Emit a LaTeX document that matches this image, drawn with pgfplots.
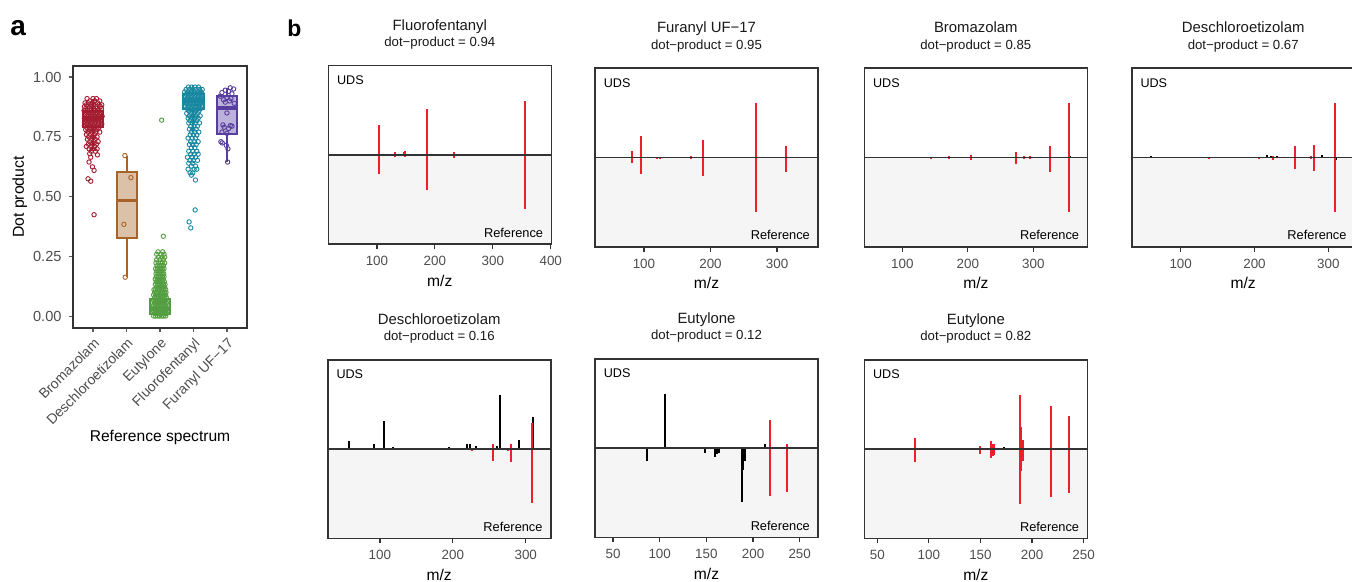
\documentclass[border=0pt]{standalone}
\usepackage{fontspec}
\setmainfont{Liberation Sans}
\usepackage{pgfplots}
\pgfplotsset{compat=1.18}
\usepgfplotslibrary{statistics}

\newcommand\fs[1]{\fontsize{#1}{#1}\selectfont}

\definecolor{cBro}{RGB}{163,28,48}
\definecolor{cDes}{RGB}{168,100,40}
\definecolor{cEut}{RGB}{84,158,66}
\definecolor{cFlu}{RGB}{24,136,160}
\definecolor{cFur}{RGB}{88,60,158}
\definecolor{specred}{RGB}{236,32,40}
\definecolor{frame}{RGB}{51,51,51}
\definecolor{tickgray}{RGB}{77,77,77}
\definecolor{refbg}{RGB}{245,245,245}

\pgfplotsset{
  spec/.style={
    anchor=north west, scale only axis, width=111.5pt, height=89.2pt,
    ymin=-1.65, ymax=1.65, ytick=\empty,
    xtick pos=bottom, tick align=outside, major tick length=2.5pt,
    axis line style={draw=frame, line width=0.8pt},
    every tick/.style={draw=frame, line width=0.6pt},
    xticklabel style={font=\fs{6.7}, text=tickgray, anchor=base, yshift=-8.2pt},
    /pgf/number format/assume math mode=true,
    clip=false, axis on top,
  },
  redpk/.style={ycomb, no markers, draw=specred, line width=1pt},
  blkpk/.style={ycomb, no markers, draw=black, line width=1pt},
  pts/.style={only marks, mark=o, mark size=1.1pt, mark options={line width=0.45pt}},
  bx/.style={boxplot/draw direction=y, boxplot/box extend=0.6, boxplot/whisker extend=0,
    line width=1pt, solid,
    boxplot/every box/.style={line width=1pt},
    boxplot/every whisker/.style={line width=1pt},
    boxplot/every median/.style={line width=1.9pt}},
}

% shaded reference half, drawn first
\newcommand\specbg{\fill[refbg] (rel axis cs:0,0) rectangle (rel axis cs:1,0.5);}
% zero line and labels
\newcommand\specfg[2]{%
  \draw[frame, line width=0.75pt] (rel axis cs:0,0.5) -- (rel axis cs:1,0.5);
  \node[anchor=base west, font=\fs{6.3}, inner sep=0pt, xshift=4.2pt, yshift=-9.4pt] at (rel axis cs:0,1) {UDS};
  \node[anchor=base east, font=\fs{6.4}, inner sep=0pt, xshift=-3.9pt, yshift=3.4pt] at (rel axis cs:1,0) {Reference};
  \node[anchor=base, font=\fs{7.45}, text=black!90, inner sep=0pt, yshift=17.8pt] at (rel axis cs:0.5,1) {#1};
  \node[anchor=base, font=\fs{6.6}, text=black!90, inner sep=0pt, yshift=9.6pt] at (rel axis cs:0.5,1) {dot−product = #2};
  \node[anchor=base, font=\fs{7.8}, inner sep=0pt, yshift=-21pt] at (rel axis cs:0.5,0) {m/z};
}

\begin{document}
\begin{tikzpicture}
\path[use as bounding box] (0,0) rectangle (676pt,-291pt);

\node[anchor=base west, font=\fs{14}\bfseries, inner sep=0pt] at (5pt,-18pt) {a};
\node[anchor=base west, font=\fs{11.5}\bfseries, inner sep=0pt] at (143.5pt,-18.3pt) {b};

% ---------------- panel a ----------------
\begin{axis}[
  at={(36.5pt,-164pt)}, anchor=south west, scale only axis,
  width=87pt, height=131pt,
  xmin=0.4, xmax=5.6, ymin=-0.048, ymax=1.046,
  xtick={1,2,3,4,5},
  xticklabels={Bromazolam,Deschloroetizolam,Eutylone,Fluorofentanyl,Furanyl UF−17},
  ytick={0,0.25,0.5,0.75,1},
  yticklabel style={/pgf/number format/fixed, /pgf/number format/fixed zerofill,
    /pgf/number format/precision=2, font=\fs{7.3}, text=tickgray},
  /pgf/number format/assume math mode=true,
  xtick pos=bottom, ytick pos=left, tick align=outside, major tick length=2.2pt,
  axis line style={draw=frame, line width=0.8pt},
  every tick/.style={draw=frame!80, line width=0.6pt},
  xticklabel style={font=\fs{7}, text=tickgray, rotate=45, anchor=north east, inner sep=1.5pt},
  clip=false,
]
\addplot[bx, draw=cBro, fill=cBro!45, boxplot prepared={draw position=1,
  median=0.83, lower quartile=0.792, upper quartile=0.858, lower whisker=0.70, upper whisker=0.91}]
  coordinates {};
\addplot[bx, draw=cDes, fill=cDes!40, boxplot prepared={draw position=2,
  median=0.484, lower quartile=0.329, upper quartile=0.604, lower whisker=0.164, upper whisker=0.672}]
  coordinates {};
\addplot[bx, draw=cEut, fill=cEut!45, boxplot prepared={draw position=3,
  median=0.03, lower quartile=0.011, upper quartile=0.074, lower whisker=0.0, upper whisker=0.165}]
  coordinates {};
\addplot[bx, draw=cFlu, fill=cFlu!40, boxplot prepared={draw position=4,
  median=0.90, lower quartile=0.866, upper quartile=0.929, lower whisker=0.77, upper whisker=0.965}]
  coordinates {};
\addplot[bx, draw=cFur, fill=cFur!40, boxplot prepared={draw position=5,
  median=0.872, lower quartile=0.762, upper quartile=0.922, lower whisker=0.645, upper whisker=0.955}]
  coordinates {};

% Bromazolam
\addplot[pts, cBro] coordinates {
(0.82,0.91)(1.0,0.91)(1.1,0.91)(0.9,0.9)(1.05,0.9)(1.2,0.9)
(0.76,0.892)(0.86,0.892)(0.98,0.892)(1.14,0.892)
(0.8,0.884)(0.93,0.884)(1.02,0.884)(1.18,0.884)(1.26,0.884)
(0.74,0.876)(0.85,0.876)(0.96,0.876)(1.08,0.876)(1.22,0.876)
(0.78,0.868)(0.9,0.868)(1.01,0.868)(1.12,0.868)(1.25,0.868)
(0.73,0.86)(0.84,0.86)(0.95,0.86)(1.06,0.86)(1.18,0.86)
(0.8,0.852)(0.91,0.852)(1.02,0.852)(1.13,0.852)(1.24,0.852)
(0.75,0.844)(0.86,0.844)(0.97,0.844)(1.08,0.844)(1.2,0.844)
(0.81,0.836)(0.92,0.836)(1.03,0.836)(1.15,0.836)(1.27,0.836)
(0.74,0.828)(0.87,0.828)(0.98,0.828)(1.1,0.828)(1.21,0.828)
(0.79,0.82)(0.9,0.82)(1.01,0.82)(1.13,0.82)(1.24,0.82)
(0.76,0.812)(0.85,0.812)(0.96,0.812)(1.07,0.812)(1.18,0.812)
(0.81,0.804)(0.93,0.804)(1.04,0.804)(1.16,0.804)(1.26,0.804)
(0.74,0.796)(0.87,0.796)(0.99,0.796)(1.11,0.796)(1.22,0.796)
(0.82,0.788)(0.94,0.788)(1.05,0.788)(1.17,0.788)
(0.78,0.78)(0.89,0.78)(1.0,0.78)(1.12,0.78)
(0.84,0.77)(0.96,0.77)(1.08,0.77)(1.2,0.77)
(0.8,0.76)(0.92,0.76)(1.04,0.76)(0.87,0.75)(0.99,0.75)(1.12,0.75)
(0.83,0.74)(0.95,0.74)(1.06,0.74)(0.9,0.73)(1.02,0.73)(1.15,0.73)
(0.86,0.72)(0.98,0.72)(1.1,0.72)(0.8,0.71)(0.93,0.71)(1.05,0.71)
(0.88,0.70)(1.0,0.70)(1.12,0.70)(0.95,0.69)(1.07,0.69)(0.9,0.68)
(1.13,0.675)(0.93,0.665)(0.88,0.645)(0.98,0.625)(1.03,0.61)
(0.85,0.575)(0.93,0.565)(1.03,0.425)
};
% Deschloroetizolam
\addplot[pts, cDes] coordinates {(1.95,0.672)(2.13,0.58)(1.92,0.385)(1.96,0.164)};
% Eutylone
\addplot[pts, cEut] coordinates {
(2.81,0.002)(2.87,0.002)(2.93,0.002)(2.99,0.002)(3.05,0.002)(3.11,0.002)(3.17,0.002)
(2.84,0.013)(2.90,0.013)(2.96,0.013)(3.02,0.013)(3.08,0.013)(3.14,0.013)(3.19,0.013)
(2.81,0.024)(2.87,0.024)(2.93,0.024)(2.99,0.024)(3.05,0.024)(3.11,0.024)(3.17,0.024)
(2.84,0.035)(2.90,0.035)(2.96,0.035)(3.02,0.035)(3.08,0.035)(3.14,0.035)(3.19,0.035)
(2.81,0.046)(2.87,0.046)(2.93,0.046)(2.99,0.046)(3.05,0.046)(3.11,0.046)(3.17,0.046)
(2.84,0.057)(2.90,0.057)(2.96,0.057)(3.02,0.057)(3.08,0.057)(3.14,0.057)(3.19,0.057)
(2.81,0.068)(2.87,0.068)(2.93,0.068)(2.99,0.068)(3.05,0.068)(3.11,0.068)(3.17,0.068)
(2.84,0.079)(2.90,0.079)(2.96,0.079)(3.02,0.079)(3.08,0.079)(3.14,0.079)(3.19,0.079)
(2.81,0.090)(2.87,0.090)(2.93,0.090)(2.99,0.090)(3.05,0.090)(3.11,0.090)(3.17,0.090)
(2.84,0.101)(2.90,0.101)(2.96,0.101)(3.02,0.101)(3.08,0.101)(3.14,0.101)(3.18,0.101)
(2.82,0.112)(2.87,0.112)(2.93,0.112)(2.99,0.112)(3.05,0.112)(3.11,0.112)(3.17,0.112)
(2.90,0.123)(2.96,0.123)(3.02,0.123)(3.08,0.123)(3.14,0.123)
(2.86,0.134)(2.92,0.134)(2.98,0.134)(3.04,0.134)(3.10,0.134)(3.15,0.134)
(2.89,0.145)(2.95,0.145)(3.01,0.145)(3.07,0.145)(3.13,0.145)
(2.86,0.156)(2.92,0.156)(2.98,0.156)(3.04,0.156)(3.10,0.156)
(2.89,0.167)(2.95,0.167)(3.01,0.167)(3.07,0.167)(3.12,0.167)
(2.88,0.178)(2.94,0.178)(3.00,0.178)(3.06,0.178)(3.11,0.178)
(2.90,0.190)(2.97,0.190)(3.03,0.190)(3.09,0.190)
(2.87,0.200)(2.93,0.200)(3.00,0.200)(3.06,0.200)(3.12,0.200)
(2.91,0.212)(2.98,0.212)(3.04,0.212)(3.10,0.212)
(2.88,0.224)(2.95,0.224)(3.02,0.224)(3.08,0.224)(3.14,0.224)
(2.90,0.237)(3.00,0.237)(3.10,0.237)(2.95,0.248)(3.06,0.248)(3.14,0.248)
(2.90,0.26)(3.03,0.26)(3.12,0.26)(3.08,0.27)(2.94,0.27)
(3.10,0.335)(3.05,0.82)
};
% Fluorofentanyl
\addplot[pts, cFlu] coordinates {
(3.85,0.958)(3.95,0.958)(4.05,0.958)(4.15,0.958)
(3.78,0.948)(3.88,0.948)(3.98,0.948)(4.08,0.948)(4.18,0.948)(4.26,0.948)
(3.74,0.938)(3.83,0.938)(3.93,0.938)(4.03,0.938)(4.13,0.938)(4.22,0.938)
(3.79,0.928)(3.88,0.928)(3.98,0.928)(4.08,0.928)(4.18,0.928)(4.27,0.928)
(3.74,0.918)(3.84,0.918)(3.94,0.918)(4.04,0.918)(4.14,0.918)(4.23,0.918)
(3.79,0.908)(3.89,0.908)(3.99,0.908)(4.09,0.908)(4.19,0.908)(4.27,0.908)
(3.75,0.898)(3.85,0.898)(3.95,0.898)(4.05,0.898)(4.15,0.898)(4.24,0.898)
(3.80,0.888)(3.90,0.888)(4.00,0.888)(4.10,0.888)(4.20,0.888)
(3.76,0.878)(3.86,0.878)(3.96,0.878)(4.06,0.878)(4.16,0.878)(4.25,0.878)
(3.82,0.868)(3.92,0.868)(4.02,0.868)(4.12,0.868)(4.21,0.868)
(3.86,0.858)(3.96,0.858)(4.06,0.858)(4.16,0.858)
(3.80,0.848)(3.92,0.848)(4.02,0.848)(4.12,0.848)
(3.88,0.838)(3.98,0.838)(4.08,0.838)(4.20,0.838)
(3.84,0.828)(3.94,0.828)(4.04,0.828)(4.14,0.828)
(3.90,0.818)(4.00,0.818)(4.10,0.818)
(3.86,0.808)(3.96,0.808)(4.06,0.808)(4.18,0.808)
(3.92,0.795)(4.02,0.795)(4.12,0.795)(3.88,0.782)(3.98,0.782)(4.08,0.782)
(3.94,0.770)(4.04,0.770)(4.16,0.770)(3.90,0.758)(4.00,0.758)(4.10,0.758)
(3.84,0.745)(3.96,0.745)(4.06,0.745)(3.92,0.730)(4.02,0.730)(4.14,0.730)
(3.88,0.718)(3.98,0.718)(4.08,0.718)(3.94,0.705)(4.04,0.705)
(3.86,0.690)(3.98,0.690)(4.10,0.690)(3.92,0.678)(4.02,0.678)(4.14,0.678)
(3.82,0.665)(3.96,0.665)(4.06,0.665)(3.90,0.652)(4.00,0.652)(4.12,0.652)
(3.86,0.640)(3.98,0.640)(3.94,0.628)(4.06,0.628)
(3.84,0.615)(4.02,0.615)(4.10,0.615)(3.90,0.600)(3.98,0.600)(3.94,0.590)
(4.06,0.570)(4.05,0.445)(3.87,0.395)(3.92,0.370)
};
% Furanyl UF-17
\addplot[pts, cFur] coordinates {
(5.10,0.955)(5.20,0.950)(4.95,0.945)(5.05,0.940)(4.85,0.935)(5.15,0.930)
(4.80,0.920)(5.00,0.915)(5.12,0.910)(4.90,0.905)(5.08,0.900)(4.95,0.895)
(5.22,0.890)(5.00,0.850)(4.88,0.800)(5.10,0.797)(5.15,0.795)(4.92,0.790)
(5.05,0.785)(4.85,0.770)(5.00,0.765)(4.82,0.730)(4.86,0.725)(4.98,0.715)
(5.03,0.700)(5.02,0.645)
};
\node[rotate=90, anchor=base, font=\fs{7.9}, inner sep=0pt, yshift=24.5pt] at (rel axis cs:0,0.5) {Dot product};
\node[anchor=base, font=\fs{7.8}, inner sep=0pt, yshift=-56.5pt] at (rel axis cs:0.5,0) {Reference spectrum};
\end{axis}

% ---------------- panel b, top row ----------------
\begin{axis}[spec, at={(164.15pt,-32.85pt)}, xmin=16, xmax=401, xtick={100,200,300,400}]
\specbg
\addplot[blkpk] coordinates {(212.7,0.012)(300,0.006)};
\addplot[redpk] coordinates {
(54,0.01)(54,-0.01)(83,0.015)(83,-0.01)(103.5,0.55)(103.5,-0.35)
(132,0.06)(132,-0.04)(146,0.05)(149,0.08)(149,-0.04)
(186.7,0.85)(186.7,-0.64)(232.8,0.06)(232.8,-0.05)(355.3,1.0)(355.3,-1.0)};
\specfg{Fluorofentanyl}{0.94}
\end{axis}

\begin{axis}[spec, at={(297.5pt,-34.15pt)}, xmin=26.5, xmax=361.5, xtick={100,200,300}]
\specbg
\addplot[blkpk] coordinates {(200,0.006)};
\addplot[redpk] coordinates {
(81.5,0.125)(81.5,-0.105)(95.5,0.40)(95.5,-0.30)(119,0.015)(119,-0.01)
(124,0.015)(124,-0.01)(170,0.02)(170,-0.015)(173,0.015)
(188.5,0.32)(188.5,-0.335)(268,1.0)(268,-1.01)(313,0.21)(313,-0.26)};
\specfg{Furanyl UF−17}{0.95}
\end{axis}

\begin{axis}[spec, at={(432.15pt,-34.15pt)}, xmin=42, xmax=382.4, xtick={100,200,300}]
\specbg
\addplot[blkpk] coordinates {(356,0.02)};
\addplot[redpk] coordinates {
(143.4,0.015)(143.4,-0.01)(171,0.03)(171,-0.02)(205,0.04)(205,-0.05)(216,0.01)
(274,0.1)(274,-0.12)(285.3,0.03)(285.3,-0.03)(295,0.02)(295,-0.01)
(325.5,0.22)(325.5,-0.26)(354,1.0)(354,-1.01)};
\specfg{Bromazolam}{0.85}
\end{axis}

\begin{axis}[spec, at={(565.85pt,-34.15pt)}, xmin=33.6, xmax=335.8, xtick={100,200,300}]
\specbg
\addplot[blkpk] coordinates {
(59.3,0.02)(200,0.01)(216.5,0.05)(222,0.02)(231,0.02)(237,0.01)
(260,0.01)(263,0.01)(291.4,0.05)(311,-0.05)};
\addplot[redpk] coordinates {
(138.4,0.01)(138.4,-0.02)(206,-0.03)(225.5,0.03)(225.5,-0.04)
(255.5,0.21)(255.5,-0.22)(277,0.03)(277,-0.02)(280,0.24)(280,-0.25)
(309.5,1.0)(309.5,-1.01)};
\specfg{Deschloroetizolam}{0.67}
\end{axis}

% ---------------- panel b, bottom row ----------------
\begin{axis}[spec, at={(163.85pt,-180pt)}, xmin=28.4, xmax=334.2, xtick={100,200,300}]
\specbg
\addplot[blkpk] coordinates {
(57.7,0.15)(91.8,0.10)(105.5,0.52)(117.4,0.04)(128,0.02)(144,0.02)(160,0.03)
(173,0.01)(186,0.02)(194.9,0.04)(198,0.03)(214.5,0.03)(219,0.10)(223.7,0.10)
(231.5,0.06)(247.5,0.02)(260,0.06)(264.4,1.0)(276.3,0.03)(290.4,0.17)(309.6,0.59)};
\addplot[redpk] coordinates {
(137.9,-0.02)(206.4,-0.02)(226,-0.03)(255.3,0.1)(255.3,-0.22)(276,0.03)(276,-0.03)
(280,0.1)(280,-0.24)(308.6,0.48)(308.6,-1.0)};
\specfg{Deschloroetizolam}{0.16}
\end{axis}

\begin{axis}[spec, at={(297.5pt,-179.5pt)}, xmin=30.7, xmax=269.6, xtick={50,100,150,200,250}]
\specbg
\addplot[blkpk] coordinates {
(50,0.01)(62,0.01)(75,0.01)(88,0.01)(105.3,1.0)(136.3,0.03)(177.7,0.01)
(213.3,0.07)(248,0.01)(86,-0.24)(148.5,-0.09)(159.6,-0.16)(161.7,-0.1)
(163,-0.08)(188,-1.0)(189.5,-0.4)(191.3,-0.23)};
\addplot[redpk] coordinates {(218.3,0.53)(218.3,-0.89)(236.6,0.07)(236.6,-0.81)};
\specfg{Eutylone}{0.12}
\end{axis}

\begin{axis}[spec, at={(432.15pt,-180pt)}, xmin=37.4, xmax=253.6, xtick={50,100,150,200,250}]
\specbg
\addplot[blkpk] coordinates {
(57,0.01)(105,0.02)(118,0.01)(133,0.03)(135,0.02)(173,0.04)(175,0.02)
(190,0.08)(205,0.01)(236.5,0.01)};
\addplot[redpk] coordinates {
(86.7,0.21)(86.7,-0.24)(149.2,0.06)(149.2,-0.09)(160.2,0.16)(160.2,-0.16)
(161.7,0.09)(161.7,-0.12)(163.3,0.09)(163.3,-0.1)(188.3,1.0)(188.3,-1.01)
(189.3,0.41)(189.3,-0.4)(191.2,0.17)(191.2,-0.22)(218,0.79)(218,-0.89)
(236,0.61)(236,-0.81)};
\specfg{Eutylone}{0.82}
\end{axis}
\end{tikzpicture}
\end{document}
